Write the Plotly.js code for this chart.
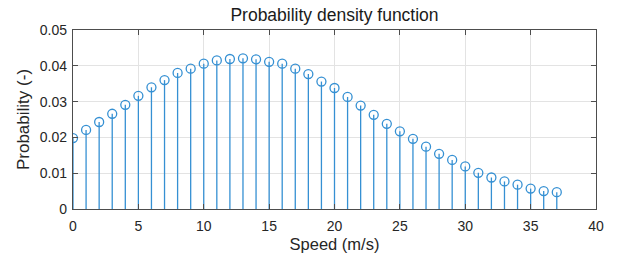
<!DOCTYPE html>
<html><head><meta charset="utf-8">
<script src="https://cdn.plot.ly/plotly-3.0.1.min.js"></script>
<style>html,body{margin:0;padding:0;background:#fff;}#chart{width:627px;height:264px;}</style>
</head><body><div id="chart"></div>
<script>
const speeds = [0,1,2,3,4,5,6,7,8,9,10,11,12,13,14,15,16,17,18,19,20,21,22,23,24,25,26,27,28,29,30,31,32,33,34,35,36,37];
const probability = [0.0198,0.0221,0.0243,0.0266,0.0291,0.0316,0.0340,0.0360,0.0380,0.0392,0.0406,0.0415,0.0419,0.0421,0.0418,0.0411,0.0406,0.0392,0.0377,0.0356,0.0338,0.0313,0.0289,0.0263,0.0238,0.0217,0.0196,0.0174,0.0154,0.0137,0.0119,0.0101,0.0088,0.0077,0.0068,0.0057,0.0050,0.0047];
const xTicks = [0,5,10,15,20,25,30,35,40];
const yTicks = [0,0.01,0.02,0.03,0.04,0.05];
const yTickLabels = ['0','0.01','0.02','0.03','0.04','0.05'];

const color = '#3590d3';
const font = 'Liberation Sans, Arial, Helvetica, sans-serif';
const trace = {
  x: speeds, y: probability, type: 'scatter', mode: 'markers',
  marker: {symbol: 'circle-open', size: 9, color: color, line: {width: 1.3, color: color}},
  error_y: {type: 'data', symmetric: false, array: probability.map(() => 0), arrayminus: probability, color: color, thickness: 1.3, width: 0},
  hoverinfo: 'none'
};
const axisCommon = {
  showline: true, linecolor: '#4d4d4d', linewidth: 1.2, mirror: 'allticks',
  ticks: 'inside', ticklen: 5, tickcolor: '#4d4d4d', tickwidth: 1,
  showgrid: true, gridcolor: '#e3e3e3', gridwidth: 1, zeroline: false,
  tickfont: {family: font, size: 14, color: '#262626'}
};
const layout = {
  width: 627, height: 264,
  margin: {l: 73, r: 31, t: 30, b: 55},
  paper_bgcolor: '#fff', plot_bgcolor: '#fff',
  showlegend: false,
  title: {text: 'Probability density function', font: {family: font, size: 17.5, color: '#1a1a1a'}, x: 0.5, xref: 'paper', y: 1 - 15/264, yanchor: 'middle'},
  xaxis: Object.assign({}, axisCommon, {range: [0, 40], tickvals: xTicks, ticktext: xTicks.map(String), ticklabelstandoff: 4,
    title: {text: 'Speed (m/s)', font: {family: font, size: 16.5, color: '#262626'}, standoff: 5}}),
  yaxis: Object.assign({}, axisCommon, {range: [0, 0.05], tickvals: yTicks, ticktext: yTickLabels, ticklabelstandoff: 2,
    title: {text: 'Probability (-)', font: {family: font, size: 17, color: '#262626'}, standoff: 5}})
};
Plotly.newPlot('chart', [trace], layout, {staticPlot: true, displayModeBar: false});
</script></body></html>
